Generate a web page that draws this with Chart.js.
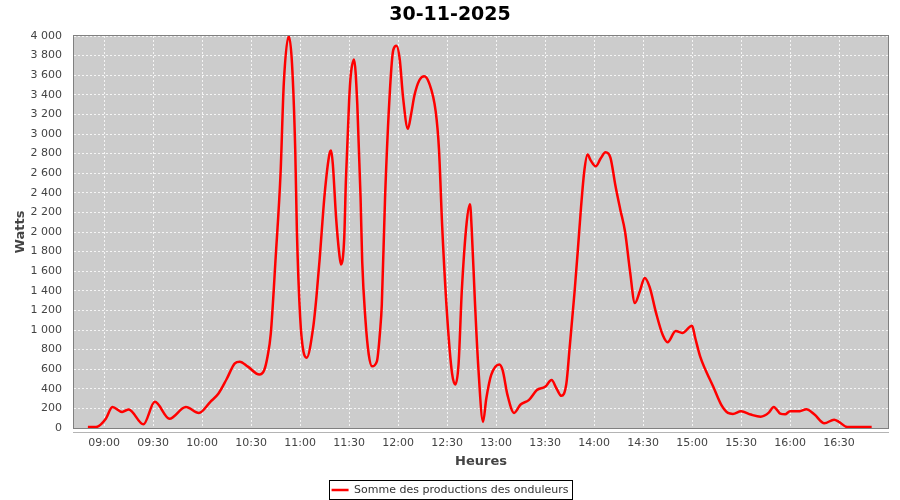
<!DOCTYPE html>
<html>
<head>
<meta charset="utf-8">
<title>30-11-2025</title>
<script src="https://cdn.jsdelivr.net/npm/chart.js@4.4.1/dist/chart.umd.min.js"></script>
<style>
  html, body { margin: 0; padding: 0; background: #ffffff; }
  #wrap { width: 900px; height: 500px; }
</style>
</head>
<body>
<div id="wrap"><canvas id="prodChart" width="900" height="500"></canvas></div>
<script>
// Production du 30-11-2025 (heure, watts)
const times = [
  "08:50", "08:55", "09:01", "09:05", "09:11", "09:15", "09:24", "09:31", "09:40", "09:50",
  "09:58", "10:05", "10:10", "10:15", "10:20", "10:23", "10:28", "10:35", "10:38", "10:40",
  "10:42", "10:45", "10:48", "10:50", "10:53", "10:55", "10:57", "10:58", "11:00", "11:02",
  "11:04", "11:08", "11:10", "11:12", "11:15", "11:18", "11:19", "11:20", "11:22", "11:24",
  "11:25", "11:27", "11:28", "11:30", "11:31", "11:33", "11:35", "11:37", "11:38", "11:40",
  "11:42", "11:44", "11:47", "11:49", "11:50", "11:52", "11:55", "11:57", "11:59", "12:01",
  "12:03", "12:06", "12:08", "12:10", "12:13", "12:16", "12:19", "12:23", "12:25", "12:27",
  "12:30", "12:33", "12:35", "12:37", "12:39", "12:42", "12:44", "12:45", "12:47", "12:49",
  "12:52", "12:54", "12:57", "13:02", "13:04", "13:07", "13:11", "13:15", "13:20", "13:25",
  "13:30", "13:34", "13:37", "13:40", "13:43", "13:45", "13:48", "13:50", "13:52", "13:54",
  "13:56", "13:58", "14:01", "14:04", "14:07", "14:10", "14:13", "14:16", "14:19", "14:22",
  "14:25", "14:28", "14:31", "14:34", "14:38", "14:42", "14:45", "14:50", "14:54", "15:00",
  "15:02", "15:05", "15:08", "15:13", "15:18", "15:22", "15:25", "15:30", "15:36", "15:42",
  "15:47", "15:50", "15:54", "15:57", "16:00", "16:06", "16:10", "16:15", "16:21", "16:27",
  "16:30", "16:35", "16:40", "16:45", "16:50"
];
const watts = [
  10, 10, 95, 215, 164, 190, 38, 267, 95, 215,
  154, 267, 352, 500, 660, 677, 626, 545, 592, 728,
  960, 1740, 2600, 3521, 4000, 3720, 2830, 2010, 1130, 780,
  718, 1030, 1344, 1737, 2387, 2800, 2831, 2694, 2147, 1771,
  1669, 1942, 2523, 3344, 3600, 3761, 3300, 2350, 1700, 1100,
  750, 630, 680, 1000, 1258, 2352, 3450, 3856, 3900, 3760,
  3377, 3053, 3207, 3395, 3549, 3590, 3520, 3230, 2848, 2050,
  1150, 560, 444, 650, 1400, 2100, 2284, 2050, 1300, 650,
  62, 301, 541, 649, 590, 335, 154, 240, 284, 387,
  420, 489, 403, 328, 450, 813, 1380, 1805, 2250, 2620,
  2790, 2728, 2670, 2750, 2813, 2760, 2480, 2233, 2000, 1600,
  1275, 1395, 1531, 1440, 1172, 951, 875, 990, 970, 1043,
  916, 728, 602, 420, 233, 154, 144, 171, 137, 116,
  157, 215, 147, 140, 171, 171, 192, 137, 48, 85,
  62, 10, 10, 10, 10
];
const xTickLabels = ["09:00", "09:30", "10:00", "10:30", "11:00", "11:30", "12:00", "12:30",
  "13:00", "13:30", "14:00", "14:30", "15:00", "15:30", "16:00", "16:30"];

function toMinutes(hhmm) {
  const parts = hhmm.split(":");
  return parseInt(parts[0], 10) * 60 + parseInt(parts[1], 10);
}

function fmtTime(m) {
  const h = Math.floor(m / 60);
  const mm = Math.round(m % 60);
  return String(h).padStart(2, "0") + ":" + String(mm).padStart(2, "0");
}

function fmtWatts(v) {
  if (v < 1000) return String(v);
  const k = Math.floor(v / 1000);
  const rest = String(v % 1000).padStart(3, "0");
  return k + "\u00a0" + rest;
}

const points = times.map((t, i) => ({ x: toMinutes(t), y: watts[i] }));

// fond gris + cadre du graphe + cadre de la légende
const frame = {
  id: "frame",
  beforeDraw(chart) {
    const a = chart.chartArea;
    const ctx = chart.ctx;
    ctx.save();
    ctx.fillStyle = "#cccccc";
    ctx.fillRect(a.left, a.top, a.right - a.left, a.bottom - a.top);
    ctx.restore();
  },
  afterDraw(chart) {
    const a = chart.chartArea;
    const ctx = chart.ctx;
    ctx.save();
    ctx.lineWidth = 1;
    ctx.strokeStyle = "#808080";
    ctx.strokeRect(Math.round(a.left) - 0.5, Math.round(a.top) - 0.5,
      Math.round(a.right - a.left) + 1, Math.round(a.bottom - a.top) + 1);
    // ligne de l'axe des heures, légèrement décalée
    ctx.strokeStyle = "#b4b4b4";
    ctx.beginPath();
    ctx.moveTo(a.left - 1, Math.round(a.bottom) + 4.5);
    ctx.lineTo(a.right + 1, Math.round(a.bottom) + 4.5);
    ctx.stroke();
    // cadre de la légende
    const hb = chart.legend && chart.legend.legendHitBoxes && chart.legend.legendHitBoxes[0];
    if (hb) {
      const cy = hb.top + hb.height / 2;
      ctx.strokeStyle = "#000000";
      ctx.strokeRect(Math.round(hb.left) - 2.5, Math.round(cy) - 9.5,
        Math.round(hb.width) + 6, 19);
    }
    ctx.restore();
  }
};

const ctx = document.getElementById("prodChart").getContext("2d");
new Chart(ctx, {
  type: "line",
  data: {
    datasets: [{
      label: "Somme des productions des onduleurs",
      data: points,
      borderColor: "#ff0000",
      backgroundColor: "#ff0000",
      borderWidth: 2.5,
      pointRadius: 0,
      fill: false,
      cubicInterpolationMode: "monotone"
    }]
  },
  options: {
    responsive: false,
    animation: false,
    layout: { padding: { left: 12, right: 12, top: 0, bottom: -5.5 } },
    plugins: {
      title: {
        display: true,
        text: "30-11-2025",
        color: "#000000",
        font: { family: "DejaVu Sans", size: 19, weight: "bold" },
        padding: { top: 4, bottom: 9.2 }
      },
      legend: {
        position: "bottom",
        labels: {
          color: "#333333",
          font: { family: "DejaVu Sans", size: 11 },
          usePointStyle: true,
          pointStyle: "line",
          pointStyleWidth: 17,
          padding: 2
        }
      },
      tooltip: { enabled: false }
    },
    scales: {
      x: {
        type: "linear",
        min: 521.5,
        max: 1020,
        afterBuildTicks(scale) {
          scale.ticks = xTickLabels.map(l => ({ value: toMinutes(l) }));
        },
        afterFit(scale) { scale.height = 54.5; },
        ticks: {
          color: "#444444",
          font: { family: "DejaVu Sans", size: 11 },
          padding: 9,
          maxRotation: 0,
          autoSkip: false,
          callback: v => fmtTime(v)
        },
        grid: {
          color: "rgba(255,255,255,0.8)",
          borderDash: [2, 2],
          drawTicks: false
        },
        border: { display: false, dash: [2, 2] },
        title: {
          display: true,
          text: "Heures",
          color: "#444444",
          font: { family: "DejaVu Sans", size: 13, weight: "bold" },
          padding: { top: 0, bottom: 12.7 }
        }
      },
      y: {
        min: 0,
        max: 4000,
        afterFit(scale) { scale.width = 62; },
        ticks: {
          stepSize: 200,
          color: "#444444",
          font: { family: "DejaVu Sans", size: 11 },
          padding: 12,
          callback: v => fmtWatts(v)
        },
        grid: {
          color: "rgba(255,255,255,0.8)",
          drawTicks: false
        },
        border: { display: false, dash: [2, 2] },
        title: {
          display: true,
          text: "Watts",
          color: "#444444",
          font: { family: "DejaVu Sans", size: 13, weight: "bold" },
          padding: { top: 1.2, bottom: 0 }
        }
      }
    }
  },
  plugins: [frame]
});
</script>
</body>
</html>
